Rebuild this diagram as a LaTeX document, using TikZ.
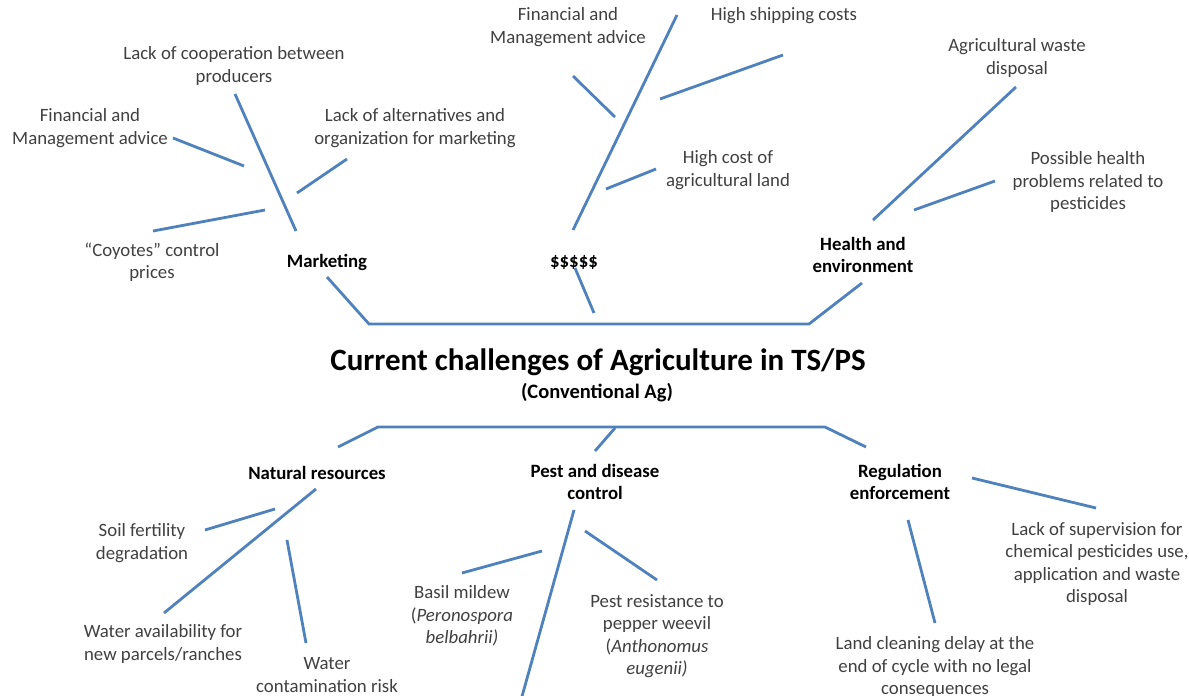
\documentclass[tikz,border=0pt]{standalone}
\usepackage{fontspec}
\setmainfont{Carlito}

\definecolor{bonecol}{RGB}{79,129,189}
\definecolor{causecol}{RGB}{64,64,64}

\begin{document}
\begin{tikzpicture}[x=1pt,y=-1pt,
  cause/.style={align=center,text=causecol,inner sep=0pt,
    font=\fontsize{18.8}{22.5}\selectfont},
  group/.style={align=center,inner sep=0pt,
    font=\bfseries\fontsize{18.8}{22.5}\selectfont},
  bone/.style={draw=bonecol,line width=2.8pt}]
  \useasboundingbox (0,0) rectangle (1189,696);
  \clip (0,0) rectangle (1189,696);

  % title
  \node[font=\bfseries\fontsize{31}{36}\selectfont,inner sep=0pt] (title) at (598,362)
    {Current challenges of Agriculture in TS/PS};
  \node[group,font=\bfseries\fontsize{20.5}{24}\selectfont] (subtitle) at (597,393) {(Conventional Ag)};

  % groups
  \node[group] (mkt) at (327,262) {Marketing};
  \node[group] (money) at (574,262) {\$\$\$\$\$};
  \node[group] (health) at (863,255) {Health and\\environment};
  \node[group] (natres) at (317,473) {Natural resources};
  \node[group] (pest) at (595,482) {Pest and disease\\control};
  \node[group] (reg) at (900,482) {Regulation\\enforcement};

  % causes
  \node[cause] (coop) at (234,66) {Lack of cooperation between\\producers};
  \node[cause] (advicea) at (90,128) {Financial and\\Management advice};
  \node[cause] (altern) at (415,128) {Lack of alternatives and\\organization for marketing};
  \node[cause] (coyotes) at (152,262) {“Coyotes” control\\prices};
  \node[cause] (adviceb) at (568,27) {Financial and\\Management advice};
  \node[cause] (shipping) at (784,16) {High shipping costs};
  \node[cause] (land) at (728,170) {High cost of\\agricultural land};
  \node[cause] (waste) at (1017,58) {Agricultural waste\\disposal};
  \node[cause] (healthprob) at (1088,182) {Possible health\\problems related to\\pesticides};
  \node[cause] (soil) at (142,543) {Soil fertility\\degradation};
  \node[cause] (water) at (163,644) {Water availability for\\new parcels/ranches};
  \node[cause] (contam) at (327,675) {Water\\contamination risk};
  \node[cause] (basil) at (462,616) {Basil mildew\\(\textit{Peronospora}\\\textit{belbahrii)}};
  \node[cause] (weevil) at (657,636) {Pest resistance to\\pepper weevil\\(\textit{Anthonomus}\\\textit{eugenii)}};
  \node[cause] (cleaning) at (935,667) {Land cleaning delay at the\\end of cycle with no legal\\consequences};
  \node[cause] (supervision) at (1097,564) {Lack of supervision for\\chemical pesticides use,\\application and waste\\disposal};

  % spines
  \coordinate (top-l) at (327,277);
  \coordinate (top-bl) at (369,324);
  \coordinate (top-br) at (809,324);
  \coordinate (top-r) at (862,283);
  \coordinate (bot-l) at (338,447);
  \coordinate (bot-tl) at (378,427);
  \coordinate (bot-tr) at (825,427);
  \coordinate (bot-r) at (866,447);
  \draw[bone] (top-l) -- (top-bl) -- (top-br) -- (top-r);
  \draw[bone] (bot-l) -- (bot-tl) -- (bot-tr) -- (bot-r);

  % bones and twigs
  \foreach \name/\xa/\ya/\xb/\yb in {
      money-link/575/268/594/313, pest-link/615/428/595/451,
      mkt-bone/235/94/296/231, advicea-twig/173/138/244/166,
      altern-twig/347/159/297/193, coyotes-twig/153/231/265/210,
      money-bone/677/15/573/230, adviceb-twig/573/76/615/117,
      shipping-twig/660/99/783/55, land-twig/606/189/656/169,
      health-bone/873/220/1016/87, healthprob-twig/914/210/995/181,
      natres-bone/316/489/164/613, soil-twig/205/530/275/509,
      contam-twig/287/540/306/643,
      pest-bone/574/510/521/700, basil-twig/462/573/542/551,
      weevil-twig/585/531/657/580,
      reg-twig/972/478/1096/508, cleaning-twig/908/520/935/623}
  {
    \coordinate (\name-a) at (\xa,\ya);
    \coordinate (\name-b) at (\xb,\yb);
    \draw[bone] (\name-a) -- (\name-b);
  }
\end{tikzpicture}
\end{document}
